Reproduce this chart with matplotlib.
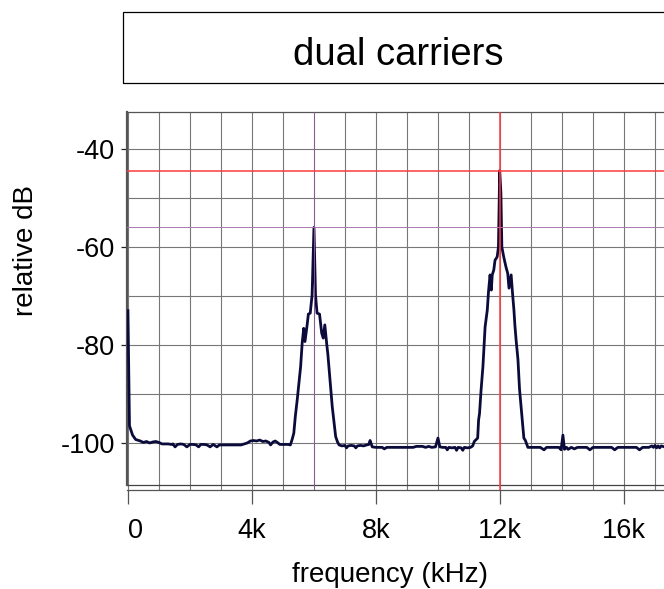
import matplotlib
matplotlib.use('Agg')
import matplotlib.pyplot as plt
from matplotlib.patches import Rectangle

plt.rcParams['font.family'] = ['Liberation Sans', 'DejaVu Sans']

## Spectrum trace (kHz, relative dB)
freq_khz = [
    0.00, 0.05, 0.15, 0.25, 0.40, 0.50, 0.60, 0.70, 0.80, 0.90,
    1.00, 1.10, 1.20, 1.30, 1.40, 1.45, 1.52, 1.60, 1.70, 1.80,
    1.90, 2.00, 2.10, 2.20, 2.28, 2.35, 2.45, 2.55, 2.65, 2.75,
    2.87, 2.95, 3.05, 3.15, 3.25, 3.35, 3.45, 3.55, 3.65, 3.75,
    3.85, 3.95, 4.05, 4.15, 4.25, 4.35, 4.45, 4.55, 4.60, 4.68,
    4.75, 4.82, 4.90, 5.00, 5.10, 5.17,
    5.24, 5.30, 5.35, 5.40, 5.46, 5.52, 5.57, 5.62, 5.67, 5.71,
    5.78, 5.82, 5.88, 5.94, 6.00, 6.05, 6.10, 6.18, 6.25, 6.30,
    6.35, 6.41, 6.45, 6.51, 6.59, 6.65, 6.70, 6.76, 6.81,
    6.90, 7.00, 7.05, 7.10, 7.20, 7.30, 7.35, 7.40, 7.50, 7.60,
    7.70, 7.77, 7.81, 7.88, 8.00, 8.10, 8.20, 8.27, 8.35, 8.50,
    8.65, 8.80, 8.95, 9.10, 9.20, 9.30, 9.40, 9.50, 9.60, 9.70,
    9.80, 9.92, 10.00, 10.06, 10.15, 10.25, 10.30, 10.35, 10.45, 10.55,
    10.60, 10.65, 10.75, 10.80, 10.85, 10.95, 11.05, 11.12,
    11.17, 11.28, 11.31, 11.34, 11.39, 11.45, 11.52, 11.59, 11.63, 11.68,
    11.72, 11.75, 11.80, 11.84, 11.91, 11.95, 11.99, 12.03, 12.06, 12.12,
    12.19, 12.25, 12.29, 12.36, 12.40, 12.45, 12.48, 12.52, 12.58, 12.63,
    12.71, 12.77, 12.82, 12.90,
    13.00, 13.10, 13.20, 13.30, 13.42, 13.50, 13.60, 13.70, 13.80, 13.90,
    13.97, 14.03, 14.08, 14.15, 14.20, 14.30, 14.40, 14.50, 14.60, 14.70,
    14.80, 14.90, 15.00, 15.10, 15.20, 15.30, 15.40, 15.50, 15.60, 15.70,
    15.80, 15.90, 16.00, 16.10, 16.20, 16.30, 16.40, 16.50, 16.60, 16.70,
    16.80, 16.90, 16.95, 17.00, 17.05, 17.10, 17.15, 17.20, 17.30,
]
level_db = [
    -73.0, -96.5, -98.4, -99.3, -99.6, -99.9, -99.7, -100.0, -99.8, -99.7,
    -99.9, -100.2, -100.2, -100.2, -100.3, -100.2, -100.8, -100.3, -100.2, -100.3,
    -100.8, -100.3, -100.3, -100.4, -100.8, -100.3, -100.3, -100.4, -100.8, -100.3,
    -100.8, -100.4, -100.4, -100.4, -100.4, -100.4, -100.4, -100.4, -100.4, -100.2,
    -100.0, -99.6, -99.5, -99.6, -99.4, -99.7, -99.6, -99.9, -100.4, -99.8,
    -99.6, -99.9, -100.3, -100.3, -100.3, -100.3,
    -100.4, -99.2, -98.0, -94.5, -91.2, -87.5, -84.4, -79.6, -76.6, -79.3,
    -75.9, -73.7, -73.5, -69.8, -56.0, -69.8, -73.5, -73.7, -77.6, -78.6,
    -75.9, -79.7, -82.0, -86.5, -92.6, -96.0, -98.7, -99.8, -100.4,
    -100.6, -100.5, -101.0, -100.6, -100.5, -100.6, -101.0, -100.6, -100.5, -100.6,
    -100.4, -100.3, -99.5, -100.8, -100.9, -100.9, -100.9, -101.2, -100.9, -100.9,
    -100.9, -100.9, -100.9, -100.9, -100.9, -100.7, -100.7, -100.7, -100.9, -100.7,
    -100.9, -100.8, -99.0, -100.8, -100.9, -100.9, -101.4, -100.9, -101.0, -100.9,
    -101.5, -100.9, -101.0, -101.5, -100.9, -101.0, -100.9, -100.6,
    -99.7, -99.0, -95.3, -94.0, -89.2, -84.4, -76.3, -72.9, -69.1, -65.7,
    -68.8, -65.7, -64.7, -62.7, -62.0, -60.0, -44.4, -49.0, -60.0, -62.0,
    -64.0, -65.4, -68.4, -65.7, -69.1, -72.9, -75.9, -79.0, -83.0, -89.0,
    -94.6, -99.0, -99.5, -100.9,
    -100.9, -100.9, -100.9, -100.9, -101.4, -100.9, -100.9, -100.9, -100.9, -100.9,
    -101.4, -98.4, -101.3, -100.9, -101.3, -100.9, -101.2, -100.9, -100.9, -100.9,
    -100.9, -101.4, -100.9, -100.9, -100.9, -100.9, -100.9, -100.9, -100.9, -101.4,
    -100.9, -100.9, -100.9, -100.9, -100.9, -100.9, -100.9, -101.4, -100.9, -100.9,
    -100.9, -100.6, -100.9, -100.5, -101.0, -100.6, -101.0, -100.6, -100.8,
]

# marker positions
peak_main_khz = 12.0
peak_main_db = -44.4
peak_second_khz = 6.0
peak_second_db = -56.0

x_ticks = [0, 4, 8, 12, 16]
x_tick_labels = ['0', '4k', '8k', '12k', '16k']
y_ticks = [-40, -60, -80, -100]
y_tick_labels = ['-40', '-60', '-80', '-100']

fig = plt.figure(figsize=(6.64, 5.89), dpi=100)
ax = fig.add_axes([127 / 664, 1 - 490 / 589, 1 - 127 / 664, (490 - 112) / 589])

ax.set_xlim(-0.03, 17.29)
ax.set_ylim(-109.6, -32.45)

# grid every 1k / 10 dB
ax.set_xticks(x_ticks)
ax.set_xticklabels(x_tick_labels)
ax.set_xticks([k for k in range(0, 18) if k not in x_ticks], minor=True)
ax.set_yticks(y_ticks)
ax.set_yticklabels(y_tick_labels)
ax.set_yticks([-50, -70, -90], minor=True)
ax.grid(True, which='both', color='#777777', linewidth=0.8)
ax.set_axisbelow(True)

ax.tick_params(axis='x', which='major', direction='out', length=10, width=0.9,
               color='#555555', labelsize=19.5, pad=10)
ax.tick_params(axis='y', which='major', direction='out', length=4.5, width=0.9,
               color='#222222', labelsize=19.5, pad=4)
ax.tick_params(which='minor', length=0)
ax.get_xticklabels()[0].set_horizontalalignment('left')

for side in ['top', 'bottom']:
    ax.spines[side].set_color('#555555')
    ax.spines[side].set_linewidth(0.9)
ax.spines['right'].set_visible(False)
ax.spines['left'].set_color('#555555')
ax.spines['left'].set_linewidth(1.6)
ax.spines['left'].set_bounds(-108.6, -32.45)
ax.axhline(-108.6, color='#444444', linewidth=0.9)

ax.plot(freq_khz, level_db, color='#0b0b3b', linewidth=2.0, zorder=3)

# cursor lines
ax.axhline(peak_second_db, color='#a878ae', linewidth=0.7, zorder=4)
ax.axvline(peak_second_khz, color='#8a5a92', linewidth=0.7, zorder=4)
ax.axhline(peak_main_db, color='#ff3b3b', linewidth=1.1, zorder=4)
ax.axvline(peak_main_khz, color='#ff3b3b', linewidth=1.1, zorder=4)

# title box
fig.patches.append(Rectangle((123 / 664, 1 - 83 / 589), 1, 71 / 589,
                             transform=fig.transFigure, fill=False,
                             edgecolor='black', linewidth=0.9))
fig.text(398 / 664, 1 - 55 / 589, 'dual carriers', ha='center', va='center', fontsize=27.5)

fig.text(390 / 664, 1 - 575 / 589, 'frequency (kHz)', ha='center', va='center', fontsize=20)
fig.text(26 / 664, 1 - 250 / 589, 'relative dB', ha='center', va='center',
         rotation=90, fontsize=20)

fig.savefig('out.png', dpi=100)
